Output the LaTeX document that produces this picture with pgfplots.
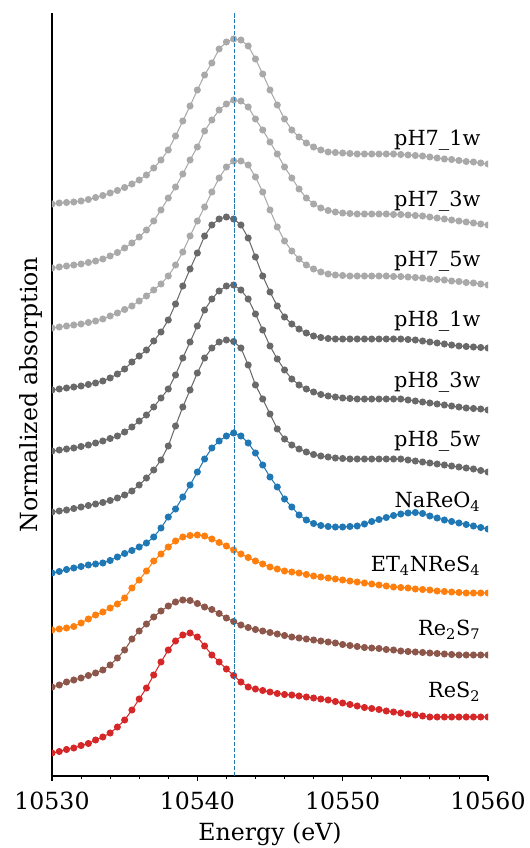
\documentclass[border=0pt]{standalone}
\usepackage{fontspec}
\setmainfont{DejaVu Serif}
\usepackage{pgfplots}
\pgfplotsset{compat=1.18}
\usepackage{pgfplotstable}
\definecolor{lgray}{HTML}{A9A9A9}
\definecolor{dgray}{HTML}{696969}
\definecolor{tblue}{HTML}{1F77B4}
\definecolor{torange}{HTML}{FF7F0E}
\definecolor{tbrown}{HTML}{8C564B}
\definecolor{tred}{HTML}{D62728}

\pgfplotstableread{
E a b c d e f g h i j
10530.0 572 508 448 386 325 264 203 146 89 23
10530.5 573 509 449 387 326 265 204.5 147 91 24.5
10531.0 573.5 510 450 388 327 266 206.5 148 94 26.5
10531.5 574 511 451 389 328 267.5 208 149.5 96 28
10532.0 575 512 452 390 329.5 269 209.5 153 98 30.5
10532.5 576.5 513.5 453.5 391.5 331 270.5 211 157 100.5 32.5
10533.0 578.5 515 455 393 333 272 212 161 103 36
10533.5 580.5 517 457 395 335 273.5 213 164 106 39
10534.0 583 520 460 398 337.5 275.5 215.5 168 111 43
10534.5 585.5 523.5 463 402 340 278 219 172 118 49
10535.0 588.5 528 466.5 407 344 281 222.5 178 126 56
10535.5 592 533 470 414 349 285 225.5 188 137 66
10536.0 596 539 475 420 355 291 229 196 145 77
10536.5 601 546 480 426 361 298 233 205 152 88
10537.0 608 555 486 435 369 306 239 215 159 101
10537.5 616 566 492 444 378 316 248 222 165 114
10538.0 626 578 500 456 387 330 259 229 170 126
10538.5 640 589 511 472 401 350 267 235 174 135
10539.0 655 602 524 490 418 369 279 239 176 141
10539.5 670 616 540 507 434 386 291 240.5 175.5 143
10540.0 686 629 555 523 450 403 304 241 172.5 139
10540.5 701 645 569 540 466 418 317 240 169 130
10541.0 713 656 584 551 477 428 328 237 166.5 121
10541.5 727 666 598 557 485 434 335 233.5 162.5 114
10542.0 734 672 609 559 490 436 340 230 158 107
10542.5 737 676 615 557 491 434.5 343 226 154.5 100.5
10543.0 736 675 615 551 486 428 340 222 151 94
10543.5 730 669 611 538 477 411 333 218.5 148.5 89
10544.0 717 657 599 519 462 391 323 215 146.5 87
10544.5 702 646 584 500 446 377 311 212 145 85.5
10545.0 686 634 566 484 430 362 299 209 143.5 84
10545.5 671 622 549 470 417 347 289 207 142 82.5
10546.0 657 609 535 459 406 337 277 205 140.5 81.5
10546.5 646 598 525 452 397 331 269 204 139 81
10547.0 639 587 517 447 391 327 261 203 138 80
10547.5 633 578 511 443 387 324 256 201.5 137 79
10548.0 629 572 507 440 384 321.5 252.5 200 136 78
10548.5 626 568 504 438.5 381.5 320 250.5 199 135 77
10549.0 624 565.5 502 437.5 380 319 249.5 198 134 76
10549.5 623.5 564 501 437 379 318 249 197 133 74.5
10550.0 623 563 500.5 437 378 317.5 249 196 131.5 73
10550.5 622.5 562.5 500 437 377.5 317 249.5 195 130.5 71.5
10551.0 622 562 500 437 377 317 250 194 129.5 70
10551.5 622 562 500 437 377 317 252 193 128.5 68.5
10552.0 622 562 500 437 377 317 254.5 192 128 67.5
10552.5 622 562 500 437 377 317 256.5 191 127.5 66.5
10553.0 622 562 500 437 377 317 258.5 190 126.5 65
10553.5 622 561.5 499.5 437 377 317 260.5 189 126 64
10554.0 621.5 561.5 499.5 437 377 317 262 188.5 125 63
10554.5 621 561 499 436.5 376 316 263 188 124.5 62
10555.0 620.5 560.5 498.5 436 375 315 263.5 187 124 61
10555.5 620 560 498 435 374 314 262.5 186.5 123.5 60
10556.0 619 559 497 434 373 313 260 186 123 59
10556.5 618 558 496.5 433 372 312 258 185 122.5 59
10557.0 617 557 496 432 371 311 256 184.5 122 59
10557.5 616.5 556 495 431 370 310 254.5 184 121.5 59
10558.0 615.5 555 494.5 430 369 309 253 183.5 121 59
10558.5 614.5 554 493.5 429.5 368 308 251.5 183 121 59
10559.0 614 553 493 429 367.5 307 250 183 121 59
10559.5 613 552 492 428.5 367 305.5 248.5 183 121 59
10560.0 612 551 491 428 366 304 247 183 121 59
}\data

\begin{document}
\fontsize{17}{20}\selectfont
\begin{tikzpicture}
\begin{axis}[
  width=313.92pt, height=549.36pt, scale only axis,
  xmin=10530, xmax=10560, ymin=0, ymax=763,
  axis x line*=bottom, axis y line*=left,
  axis line style={line width=0.8pt, black},
  ytick=\empty,
  xtick={10530,10540,10550,10560},
  scaled x ticks=false,
  xticklabel={\pgfmathprintnumber[fixed, precision=0, 1000 sep={}, assume math mode=true]{\tick}},
  minor x tick num=4,
  tick align=outside,
  major tick length=3.5pt, minor tick length=2pt,
  tick style={black, line width=0.8pt},
  minor tick style={line width=0.6pt},
  /pgf/number format/assume math mode=true,
  /pgf/number format/1000 sep={},
  xticklabel style={font=\fontsize{17}{20}\selectfont, inner sep=0pt, anchor=north, yshift=-7.9pt},
  xlabel={Energy (eV)},
  xlabel style={font=\fontsize{17}{20}\selectfont, inner sep=0pt, at={(axis description cs:0.5,-0.0839)}, anchor=base},
  ylabel={Normalized absorption},
  ylabel style={font=\fontsize{17}{20}\selectfont, inner sep=0pt, at={(axis description cs:-0.048,0.5)}, anchor=center},
  clip marker paths=true,
  every axis plot/.append style={line width=0.75pt, mark=*, mark size=2.15pt, mark options={solid}},
]
\coordinate (SW) at (rel axis cs:0,0);
\coordinate (NE) at (rel axis cs:1,1);
\addplot[lgray] table[x=E,y=a]{\data};
\addplot[lgray] table[x=E,y=b]{\data};
\addplot[lgray] table[x=E,y=c]{\data};
\addplot[dgray] table[x=E,y=d]{\data};
\addplot[dgray] table[x=E,y=e]{\data};
\addplot[dgray] table[x=E,y=f]{\data};
\addplot[tblue] table[x=E,y=g]{\data};
\addplot[torange] table[x=E,y=h]{\data};
\addplot[tbrown] table[x=E,y=i]{\data};
\addplot[tred] table[x=E,y=j]{\data};
\addplot[tblue, mark=none, line width=0.8pt, dash pattern=on 3pt off 1.3pt] coordinates {(10542.55,0) (10542.55,763)};
\begin{scope}[every node/.style={anchor=east, inner sep=0pt, font=\fontsize{15}{18}\selectfont}]
\node at (axis cs:10559.5,636) {pH7\_1w};
\node at (axis cs:10559.5,575) {pH7\_3w};
\node at (axis cs:10559.5,515) {pH7\_5w};
\node at (axis cs:10559.5,455) {pH8\_1w};
\node at (axis cs:10559.5,394) {pH8\_3w};
\node at (axis cs:10559.5,335) {pH8\_5w};
\node at (axis cs:10559.5,274) {NaReO\textsubscript{4}};
\node at (axis cs:10559.5,210) {ET\textsubscript{4}NReS\textsubscript{4}};
\node at (axis cs:10559.5,146) {Re\textsubscript{2}S\textsubscript{7}};
\node at (axis cs:10559.5,84) {ReS\textsubscript{2}};
\end{scope}
\end{axis}
\pgfresetboundingbox
\useasboundingbox ([shift={(-37.44pt,-51.84pt)}]SW) rectangle ([shift={(30.24pt,9.36pt)}]NE);
\end{tikzpicture}
\end{document}
